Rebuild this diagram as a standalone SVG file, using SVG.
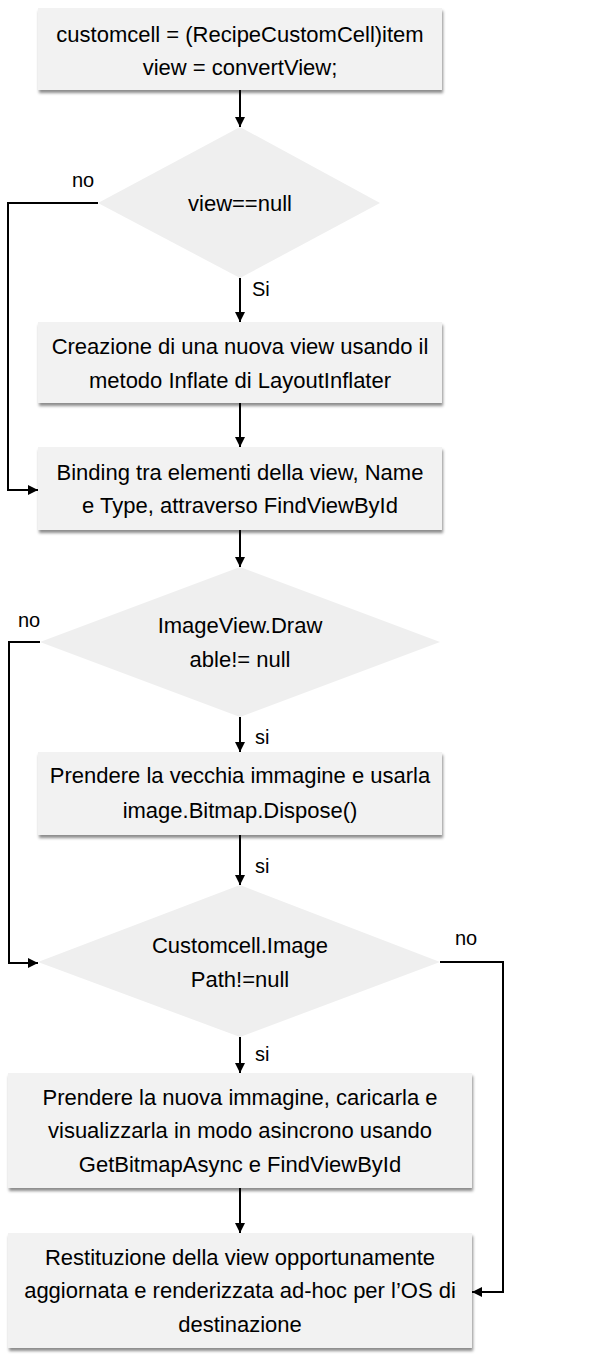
<svg xmlns="http://www.w3.org/2000/svg" width="600" height="1370" viewBox="0 0 600 1370">
<style>
.box{fill:#f2f2f2;filter:url(#sh);}
.dia{fill:#efefef;}
.t{font-family:"Liberation Sans",Arial,sans-serif;font-size:22px;fill:#000;text-anchor:middle;}
.lbl{font-family:"Liberation Sans",Arial,sans-serif;font-size:20px;fill:#000;}
.ln{fill:none;stroke:#000;stroke-width:2;}
</style>
<defs>
<filter id="sh" x="-5%" y="-10%" width="112%" height="130%">
<feDropShadow dx="1" dy="3" stdDeviation="1.5" flood-color="#000" flood-opacity="0.45"/>
</filter>
<marker id="ah" viewBox="0 0 10 10" refX="10" refY="5" markerWidth="6" markerHeight="5" orient="auto" markerUnits="strokeWidth">
<path d="M0,0 L10,5 L0,10 z" fill="#000"/>
</marker>
</defs>
<rect width="600" height="1370" fill="#fff"/>

<g id="n1"><rect class="box" x="38" y="8" width="404" height="82"/>
<text class="t" x="240" y="42">customcell = (RecipeCustomCell)item</text>
<text class="t" x="240" y="75">view = convertView;</text></g>

<g id="d1"><polygon class="dia" points="240,127 380,203 240,278 98,203"/>
<text class="t" x="240" y="211">view==null</text></g>

<g id="n2"><rect class="box" x="38" y="322" width="404" height="81"/>
<text class="t" x="240" y="354">Creazione di una nuova view usando il</text>
<text class="t" x="240" y="388">metodo Inflate di LayoutInflater</text></g>

<g id="n3"><rect class="box" x="38" y="447" width="404" height="83"/>
<text class="t" x="240" y="480">Binding tra elementi della view, Name</text>
<text class="t" x="240" y="513">e Type, attraverso FindViewById</text></g>

<g id="d2"><polygon class="dia" points="240,567 440,642 240,717 40,642"/>
<text class="t" x="240" y="633">ImageView.Draw</text>
<text class="t" x="240" y="667">able!= null</text></g>

<g id="n4"><rect class="box" x="38" y="752" width="404" height="83"/>
<text class="t" x="240" y="783">Prendere la vecchia immagine e usarla</text>
<text class="t" x="240" y="818">image.Bitmap.Dispose()</text></g>

<g id="d3"><polygon class="dia" points="240,885 440,962 240,1037 38,962"/>
<text class="t" x="240" y="953">Customcell.Image</text>
<text class="t" x="240" y="987">Path!=null</text></g>

<g id="n5"><rect class="box" x="8" y="1073" width="464" height="115"/>
<text class="t" x="240" y="1105">Prendere la nuova immagine, caricarla e</text>
<text class="t" x="240" y="1138">visualizzarla in modo asincrono usando</text>
<text class="t" x="240" y="1172">GetBitmapAsync e FindViewById</text></g>

<g id="n6"><rect class="box" x="8" y="1233" width="464" height="115"/>
<text class="t" x="240" y="1265">Restituzione della view opportunamente</text>
<text class="t" x="240" y="1298">aggiornata e renderizzata ad-hoc per l’OS di</text>
<text class="t" x="240" y="1332">destinazione</text></g>

<g id="connectors">
<line class="ln" x1="240" y1="90" x2="240" y2="127" marker-end="url(#ah)"/>
<polyline class="ln" points="98,203 8,203 8,490 38,490" marker-end="url(#ah)"/>
<line class="ln" x1="240" y1="278" x2="240" y2="322" marker-end="url(#ah)"/>
<line class="ln" x1="240" y1="403" x2="240" y2="447" marker-end="url(#ah)"/>
<line class="ln" x1="240" y1="530" x2="240" y2="567" marker-end="url(#ah)"/>
<polyline class="ln" points="40,642 9,642 9,963 38,963" marker-end="url(#ah)"/>
<line class="ln" x1="240" y1="717" x2="240" y2="752" marker-end="url(#ah)"/>
<line class="ln" x1="240" y1="835" x2="240" y2="885" marker-end="url(#ah)"/>
<line class="ln" x1="240" y1="1037" x2="240" y2="1073" marker-end="url(#ah)"/>
<line class="ln" x1="240" y1="1188" x2="240" y2="1233" marker-end="url(#ah)"/>
<polyline class="ln" points="440,962 503,962 503,1292 472,1292" marker-end="url(#ah)"/>
<text class="lbl" x="72" y="187">no</text>
<text class="lbl" x="252" y="296">Si</text>
<text class="lbl" x="18" y="627">no</text>
<text class="lbl" x="255" y="744">si</text>
<text class="lbl" x="255" y="873">si</text>
<text class="lbl" x="455" y="945">no</text>
<text class="lbl" x="255" y="1061">si</text>
</g>
</svg>
